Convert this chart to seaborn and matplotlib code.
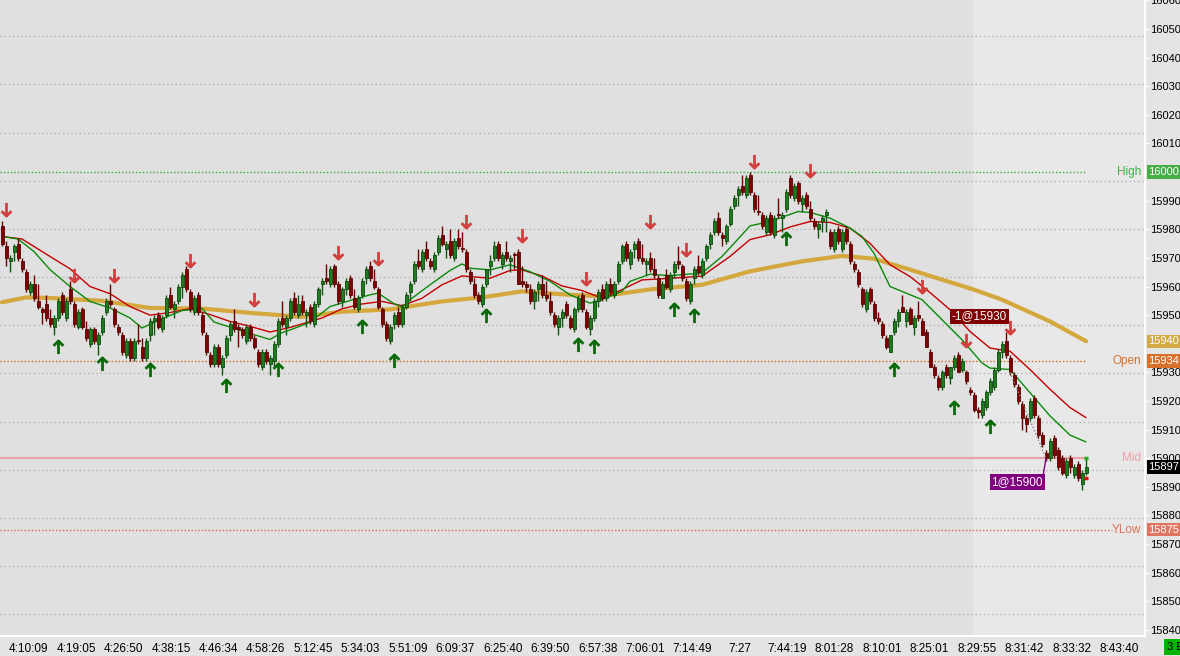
import numpy as np
import pandas as pd
import matplotlib
matplotlib.use("Agg")
import matplotlib.pyplot as plt
from matplotlib.path import Path
import seaborn as sns

# candles (one per bar, left to right)
opens = [15981, 15974, 15969, 15972, 15975, 15969, 15965, 15958, 15961, 15955,
         15952, 15954, 15949, 15946, 15949, 15957, 15949, 15959, 15954, 15946,
         15952, 15945, 15940, 15945, 15940, 15944, 15951, 15955, 15952, 15946,
         15943, 15936, 15941, 15935, 15941, 15939, 15935, 15943, 15948, 15950,
         15945, 15950, 15957, 15952, 15955, 15960, 15966, 15958, 15951, 15957,
         15950, 15943, 15936, 15933, 15939, 15932, 15936, 15943, 15948, 15946,
         15945, 15941, 15946, 15942, 15937, 15932, 15937, 15933, 15934, 15940,
         15949, 15946, 15949, 15956, 15950, 15955, 15950, 15953, 15947, 15954,
         15961, 15963, 15961, 15967, 15961, 15955, 15959, 15963, 15956, 15952,
         15957, 15963, 15967, 15962, 15959, 15952, 15947, 15941, 15947, 15951,
         15947, 15953, 15958, 15962, 15969, 15966, 15973, 15969, 15966, 15972,
         15978, 15973, 15976, 15970, 15977, 15973, 15972, 15965, 15961, 15957,
         15954, 15961, 15967, 15970, 15975, 15968, 15972, 15969, 15971, 15972,
         15962, 15961, 15959, 15955, 15959, 15961, 15957, 15955, 15950, 15946,
         15949, 15954, 15949, 15945, 15952, 15957, 15951, 15945, 15949, 15955,
         15959, 15956, 15961, 15957, 15962, 15969, 15975, 15968, 15973, 15976,
         15970, 15968, 15970, 15966, 15963, 15956, 15964, 15959, 15965, 15969,
         15967, 15962, 15955, 15963, 15967, 15964, 15970, 15975, 15979, 15984,
         15978, 15976, 15982, 15988, 15992, 15995, 15992, 15999, 15992, 15986,
         15985, 15979, 15985, 15978, 15985, 15984, 15987, 15998, 15991, 15996,
         15989, 15992, 15987, 15983, 15980, 15983, 15985, 15979, 15973, 15980,
         15973, 15980, 15975, 15968, 15965, 15959, 15952, 15959, 15954, 15949,
         15947, 15942, 15937, 15944, 15948, 15953, 15948, 15952, 15946, 15950,
         15948, 15944, 15937, 15932, 15928, 15925, 15932, 15928, 15932, 15936,
         15931, 15930, 15924, 15922, 15917, 15915, 15918, 15923, 15925, 15931,
         15937, 15941, 15935, 15929, 15925, 15919, 15914, 15914, 15921, 15914,
         15908, 15902, 15900, 15907, 15903, 15900, 15894, 15900, 15894, 15898,
         15891, 15895]
highs = [15983, 15976, 15971, 15975, 15977, 15970, 15966, 15962, 15964, 15961,
         15953, 15957, 15952, 15950, 15956, 15958, 15956, 15962, 15955, 15952,
         15953, 15948, 15946, 15946, 15944, 15950, 15956, 15961, 15953, 15947,
         15944, 15942, 15942, 15942, 15947, 15942, 15942, 15949, 15950, 15951,
         15950, 15957, 15960, 15955, 15961, 15965, 15967, 15959, 15957, 15958,
         15951, 15944, 15937, 15940, 15940, 15936, 15943, 15948, 15952, 15947,
         15946, 15947, 15947, 15943, 15938, 15938, 15938, 15936, 15941, 15949,
         15955, 15950, 15956, 15958, 15957, 15957, 15952, 15954, 15955, 15960,
         15963, 15968, 15967, 15968, 15962, 15960, 15963, 15964, 15959, 15957,
         15963, 15967, 15969, 15966, 15960, 15953, 15948, 15947, 15951, 15953,
         15954, 15958, 15962, 15969, 15973, 15973, 15976, 15970, 15972, 15978,
         15981, 15976, 15980, 15977, 15980, 15979, 15973, 15966, 15963, 15958,
         15961, 15966, 15971, 15976, 15976, 15972, 15976, 15971, 15972, 15973,
         15967, 15962, 15961, 15959, 15962, 15964, 15962, 15958, 15951, 15950,
         15952, 15955, 15950, 15953, 15957, 15958, 15952, 15950, 15956, 15959,
         15961, 15962, 15963, 15962, 15969, 15975, 15976, 15973, 15976, 15977,
         15975, 15970, 15972, 15970, 15964, 15962, 15966, 15965, 15969, 15974,
         15968, 15963, 15962, 15967, 15971, 15970, 15975, 15979, 15984, 15986,
         15979, 15982, 15988, 15992, 15995, 15999, 15999, 16000, 15993, 15992,
         15986, 15985, 15986, 15985, 15991, 15986, 15994, 15999, 15996, 15997,
         15992, 15993, 15990, 15984, 15983, 15985, 15987, 15980, 15980, 15981,
         15980, 15981, 15976, 15969, 15966, 15960, 15959, 15960, 15955, 15951,
         15948, 15943, 15943, 15949, 15952, 15957, 15952, 15953, 15950, 15955,
         15949, 15945, 15938, 15933, 15929, 15931, 15933, 15932, 15936, 15937,
         15935, 15931, 15925, 15923, 15918, 15921, 15924, 15928, 15932, 15938,
         15941, 15944, 15936, 15930, 15926, 15920, 15915, 15921, 15922, 15915,
         15909, 15903, 15907, 15908, 15904, 15901, 15900, 15901, 15898, 15899,
         15896, 15900]
lows = [15974, 15967, 15965, 15969, 15969, 15965, 15958, 15957, 15955, 15952,
        15947, 15948, 15946, 15943, 15948, 15950, 15948, 15954, 15946, 15945,
        15945, 15941, 15939, 15940, 15936, 15943, 15950, 15953, 15946, 15943,
        15936, 15935, 15934, 15934, 15940, 15934, 15934, 15941, 15943, 15945,
        15944, 15949, 15952, 15949, 15954, 15956, 15958, 15951, 15950, 15950,
        15943, 15936, 15932, 15932, 15932, 15929, 15935, 15941, 15944, 15939,
        15942, 15940, 15941, 15938, 15932, 15931, 15933, 15929, 15932, 15939,
        15946, 15943, 15948, 15950, 15949, 15950, 15946, 15947, 15946, 15953,
        15957, 15961, 15960, 15960, 15954, 15953, 15957, 15956, 15952, 15951,
        15956, 15961, 15962, 15959, 15952, 15946, 15941, 15940, 15945, 15946,
        15946, 15952, 15955, 15961, 15966, 15965, 15969, 15966, 15965, 15971,
        15974, 15970, 15970, 15969, 15973, 15972, 15965, 15961, 15956, 15954,
        15953, 15960, 15964, 15969, 15969, 15966, 15969, 15965, 15966, 15961,
        15960, 15958, 15954, 15952, 15955, 15956, 15955, 15950, 15946, 15943,
        15946, 15949, 15945, 15944, 15951, 15951, 15945, 15943, 15948, 15953,
        15955, 15955, 15957, 15956, 15961, 15968, 15969, 15966, 15970, 15969,
        15968, 15964, 15965, 15963, 15956, 15956, 15959, 15958, 15963, 15966,
        15962, 15955, 15954, 15961, 15964, 15963, 15969, 15973, 15978, 15978,
        15974, 15975, 15981, 15987, 15988, 15992, 15991, 15992, 15986, 15985,
        15980, 15978, 15978, 15977, 15984, 15979, 15986, 15991, 15990, 15989,
        15986, 15987, 15983, 15980, 15977, 15979, 15979, 15973, 15972, 15975,
        15972, 15975, 15968, 15965, 15960, 15953, 15951, 15954, 15948, 15947,
        15942, 15938, 15937, 15943, 15946, 15951, 15946, 15947, 15943, 15948,
        15943, 15939, 15932, 15928, 15924, 15924, 15928, 15926, 15931, 15930,
        15930, 15926, 15922, 15916, 15914, 15914, 15917, 15922, 15924, 15930,
        15935, 15935, 15929, 15925, 15919, 15910, 15909, 15913, 15914, 15907,
        15904, 15899, 15899, 15900, 15896, 15894, 15893, 15895, 15893, 15892,
        15889, 15894]
closes = [15975, 15970, 15970, 15974, 15970, 15966, 15959, 15961, 15956, 15953,
          15951, 15949, 15947, 15949, 15955, 15951, 15955, 15955, 15947, 15951,
          15946, 15942, 15945, 15941, 15943, 15949, 15955, 15954, 15947, 15944,
          15937, 15941, 15935, 15941, 15941, 15935, 15941, 15948, 15949, 15946,
          15949, 15956, 15953, 15954, 15960, 15964, 15959, 15952, 15956, 15951,
          15944, 15937, 15933, 15939, 15933, 15935, 15942, 15947, 15945, 15945,
          15943, 15946, 15942, 15939, 15933, 15937, 15934, 15935, 15940, 15948,
          15947, 15949, 15955, 15951, 15954, 15951, 15951, 15948, 15954, 15959,
          15962, 15962, 15966, 15961, 15955, 15959, 15962, 15957, 15953, 15956,
          15962, 15966, 15963, 15960, 15953, 15947, 15942, 15946, 15950, 15947,
          15953, 15957, 15961, 15968, 15967, 15972, 15970, 15967, 15971, 15977,
          15975, 15975, 15971, 15976, 15974, 15973, 15966, 15962, 15957, 15955,
          15960, 15966, 15969, 15974, 15970, 15971, 15970, 15970, 15971, 15961,
          15961, 15960, 15955, 15958, 15961, 15957, 15956, 15951, 15947, 15949,
          15951, 15950, 15946, 15952, 15956, 15952, 15946, 15949, 15955, 15958,
          15956, 15961, 15958, 15961, 15968, 15974, 15970, 15972, 15975, 15970,
          15969, 15969, 15966, 15964, 15957, 15961, 15960, 15964, 15968, 15968,
          15963, 15956, 15961, 15966, 15965, 15969, 15974, 15978, 15983, 15979,
          15977, 15981, 15987, 15991, 15994, 15993, 15998, 15993, 15987, 15986,
          15981, 15984, 15979, 15984, 15985, 15985, 15993, 15992, 15995, 15990,
          15991, 15988, 15984, 15981, 15982, 15984, 15986, 15974, 15979, 15976,
          15979, 15976, 15969, 15966, 15961, 15954, 15958, 15955, 15949, 15948,
          15943, 15939, 15943, 15948, 15951, 15951, 15951, 15947, 15949, 15949,
          15943, 15939, 15932, 15929, 15925, 15930, 15929, 15932, 15935, 15930,
          15934, 15927, 15923, 15917, 15916, 15920, 15923, 15927, 15931, 15937,
          15940, 15936, 15930, 15926, 15920, 15914, 15912, 15920, 15915, 15908,
          15905, 15900, 15906, 15901, 15897, 15895, 15899, 15897, 15897, 15893,
          15895, 15897]

# moving averages, sampled off the chart at these bar numbers
fast_idx = [0, 4, 8, 12, 17, 22, 27, 32, 35, 40, 45, 50, 53, 58, 62, 67, 70, 72, 77, 82,
            87, 92, 94, 98, 100, 102, 107, 112, 115, 117, 122, 127, 132, 137, 142, 147, 150, 155, 157, 162,
            167, 175, 180, 185, 187, 192, 199, 202, 207, 212, 215, 218, 222, 225, 230, 235, 240, 245, 247, 252,
            257, 262, 267, 271]
fast_val = [15977.5, 15976.6, 15972.2, 15965.9, 15960.0, 15954.8, 15952.5, 15949.0, 15945.5, 15948.7,
            15951.6, 15952.3, 15947.6, 15945.4, 15943.6, 15941.5, 15943.9, 15944.8, 15947.5, 15953.0,
            15955.1, 15957.1, 15957.7, 15954.0, 15952.8, 15955.4, 15960.6, 15965.6, 15967.9, 15966.4,
            15965.8, 15967.6, 15965.2, 15961.8, 15957.1, 15954.2, 15955.4, 15958.3, 15961.8, 15964.3,
            15963.8, 15964.7, 15970.5, 15978.1, 15981.2, 15982.7, 15986.2, 15985.9, 15983.9, 15980.4,
            15977.5, 15971.6, 15960.0, 15958.3, 15955.4, 15948.4, 15941.4, 15933.3, 15931.5, 15931.0,
            15922.9, 15914.8, 15908.1, 15905.7]
mid_idx = [0, 5, 12, 17, 22, 27, 32, 37, 42, 47, 52, 57, 62, 67, 72, 80, 85, 90, 95, 100,
           105, 110, 115, 122, 127, 130, 135, 140, 145, 150, 155, 160, 165, 175, 182, 187, 192, 197, 202, 207,
           212, 217, 222, 227, 232, 237, 242, 247, 252, 257, 262, 267, 271]
mid_val = [15977.5, 15976.6, 15970.5, 15966.2, 15960.0, 15957.5, 15953.0, 15950.0, 15950.9, 15952.3,
           15950.2, 15947.8, 15946.1, 15944.1, 15945.7, 15949.0, 15952.2, 15953.9, 15954.8, 15953.3,
           15955.9, 15960.6, 15963.7, 15962.9, 15965.6, 15965.8, 15963.7, 15960.2, 15958.6, 15955.9,
           15958.9, 15962.3, 15962.7, 15963.6, 15970.5, 15976.4, 15978.1, 15980.8, 15982.7, 15982.4,
           15980.4, 15975.1, 15967.6, 15963.5, 15957.9, 15951.9, 15944.3, 15938.5, 15937.4, 15931.0,
           15924.1, 15917.7, 15914.2]
slow_idx = [0, 6, 12, 25, 37, 50, 62, 75, 85, 97, 110, 120, 130, 142, 150, 162, 175, 187, 200, 210,
            218, 227, 235, 243, 250, 262, 271]
slow_val = [15954.5, 15956.2, 15956.0, 15955.0, 15952.5, 15952.3, 15950.8, 15949.4, 15951.2, 15952.0,
            15954.8, 15956.2, 15958.3, 15957.1, 15956.6, 15959.0, 15960.6, 15965.3, 15968.8, 15970.7,
            15969.7, 15965.9, 15962.4, 15958.9, 15955.4, 15947.8, 15940.9]

# signal arrows
sell_idx = [1, 18, 28, 47, 63, 84, 94, 116, 130, 146, 162, 171, 188, 202, 230, 241, 252]
sell_px = [15987.0, 15964.0, 15964.0, 15969.3, 15955.6, 15972.0, 15970.1, 15982.9, 15978.0, 15963.1,
           15983.0, 15973.0, 16003.8, 16000.7, 15960.2, 15941.3, 15946.0]
buy_idx = [14, 25, 37, 56, 69, 90, 98, 121, 144, 148, 168, 173, 196, 223, 238, 247]
buy_px = [15938.9, 15933.0, 15930.7, 15925.2, 15930.7, 15945.9, 15934.0, 15949.7, 15939.7, 15938.9,
          15951.8, 15949.7, 15976.6, 15930.8, 15917.6, 15910.9]

# trades
trade_idx = [252, 261]
trade_px = [15930, 15900]
trade_text = ["-1@15930", "1@15900"]

# key levels
level_names = ["High", "Open", "Mid", "YLow"]
level_values = [16000, 15934, 15900, 15875]
grid_levels = [16047.5, 16030.7, 16013.8, 15997.0, 15980.2, 15963.3, 15946.5, 15929.7,
               15912.8, 15896.0, 15879.2, 15862.3, 15845.5]
quote_px = [15900.2, 15893.2]

time_labels = ["4:10:09", "4:19:05", "4:26:50", "4:38:15", "4:46:34", "4:58:26", "5:12:45", "5:34:03",
               "5:51:09", "6:09:37", "6:25:40", "6:39:50", "6:57:38", "7:06:01", "7:14:49", "7:27",
               "7:44:19", "8:01:28", "8:10:01", "8:25:01", "8:29:55", "8:31:42", "8:33:32", "8:43:40"]

sns.set_theme(style="white")
plt.rcParams["font.family"] = ["Liberation Sans", "DejaVu Sans"]

df = pd.DataFrame({"o": opens, "h": highs, "l": lows, "c": closes})
df["i"] = np.arange(len(df))
up = df["c"] > df["o"]
body_lo = np.minimum(df["o"], df["c"])
body_h = np.maximum((df["c"] - df["o"]).abs(), 0.35)

fig = plt.figure(figsize=(11.8, 6.56), dpi=100, facecolor="#e4e4e4")
ax = fig.add_axes([0, 20 / 656, 1145 / 1180, 636 / 656])
ax.set_facecolor("#e0e0e0")
x0, x1 = -0.5, 285.75
ax.set_xlim(x0, x1)
ax.set_ylim(15837.9, 16060.1)

# lighter area after the session change
ax.axvspan(242.75, x1, color="#e8e8e8", lw=0, zorder=0)
ax.hlines(grid_levels, x0, x1, colors="#b4b4b4", linestyles=(0, (1, 2)), lw=1, zorder=1)

# key level lines + names
lvl_colors = ["#2fb02f", "#d2691e", "#eba3aa", "#d8684c"]
lvl_text_colors = ["#3db43d", "#d8702a", "#eba0a8", "#e07258"]
lvl_ends = [270.75, 270.75, 271.5, 277.5]
for name, v, col, tcol, xe in zip(level_names, level_values, lvl_colors, lvl_text_colors, lvl_ends):
    if name == "Mid":
        ax.hlines(v, x0, xe, colors=col, lw=1.6, zorder=1.5)
    else:
        ax.hlines(v, x0, xe, colors=col, lw=1, linestyles=(0, (1, 1.5)), zorder=1.5)
    ax.text(1141 / 1145, v, name, transform=ax.get_yaxis_transform(), ha="right", va="center",
            color=tcol, fontsize=8.5, zorder=6)

# moving averages
sns.lineplot(x=slow_idx, y=slow_val, ax=ax, color="#d4a83c", linewidth=3, zorder=2.4)
sns.lineplot(x=mid_idx, y=mid_val, ax=ax, color="#c40000", linewidth=1, zorder=2.6)
sns.lineplot(x=fast_idx, y=fast_val, ax=ax, color="#0a8a0a", linewidth=1, zorder=2.7)

# candles
ax.vlines(df["i"][up], df["l"][up], df["h"][up], colors="#0b5a0b", lw=1, zorder=3)
ax.vlines(df["i"][~up], df["l"][~up], df["h"][~up], colors="#6e0000", lw=1, zorder=3)
ax.bar(df["i"][up], body_h[up], bottom=body_lo[up], width=0.75, color="#1b7d1b",
       edgecolor="#0b4b0b", linewidth=0.6, zorder=4)
ax.bar(df["i"][~up], body_h[~up], bottom=body_lo[~up], width=0.75, color="#800000",
       edgecolor="#5c0000", linewidth=0.6, zorder=4)

# signal arrows
down_arrow = Path([(0, 1), (0, -1), (-0.75, -0.25), (0, -1), (0.75, -0.25)],
                  [Path.MOVETO, Path.LINETO, Path.MOVETO, Path.LINETO, Path.LINETO])
up_arrow = Path([(0, -1), (0, 1), (-0.75, 0.25), (0, 1), (0.75, 0.25)],
                [Path.MOVETO, Path.LINETO, Path.MOVETO, Path.LINETO, Path.LINETO])
ax.plot(sell_idx, sell_px, ls="none", marker=down_arrow, ms=9.5, mew=2, mec="#d23f3f",
        mfc="none", zorder=5)
ax.plot(buy_idx, buy_px, ls="none", marker=up_arrow, ms=9.5, mew=2, mec="#0a6a0a",
        mfc="none", zorder=5)

# trades
ax.plot(trade_idx, trade_px, ls=(0, (1, 1.5)), color="#8a8a8a", lw=1, zorder=5)
ax.annotate(trade_text[0], xy=(trade_idx[0], trade_px[0]), xytext=(-3, 56), textcoords="offset pixels",
            ha="right", va="center", color="white", fontsize=8.5, zorder=7,
            bbox=dict(boxstyle="square,pad=0.15", fc="#800000", ec="none"))
ax.annotate(trade_text[1], xy=(trade_idx[1], trade_px[1]), xytext=(-3, -24), textcoords="offset pixels",
            ha="right", va="center", color="white", fontsize=8.5, zorder=7,
            bbox=dict(boxstyle="square,pad=0.15", fc="#800080", ec="none"),
            arrowprops=dict(arrowstyle="-", color="#800080", lw=1, relpos=(1, 1), shrinkA=0, shrinkB=0))

# bid / ask ticks on the last bar
last = df["i"].iloc[-1]
ax.hlines(quote_px[0], last - 0.6, last + 0.6, colors="#1fb41f", lw=2.5, zorder=6)
ax.hlines(quote_px[1], last - 0.6, last + 0.6, colors="#e01010", lw=2.5, zorder=6)

# price flags on the axis
flag_values = [level_values[0], slow_val[-1], level_values[1], closes[-1], level_values[3]]
flag_colors = ["#47ad47", "#d4aa45", "#d9702a", "#000000", "#df7560"]
flag_text = [f"{int(v)}" for v in flag_values]

# axes
ax.grid(False)
ax.yaxis.tick_right()
yt = np.arange(15840, 16061, 10)
ax.set_yticks(yt)
ax.set_yticklabels(["" if str(v) in flag_text else str(v) for v in yt])
ax.set_xticks(np.arange(len(time_labels)) * 11.85 + 6.7)
ax.set_xticklabels(time_labels)
ax.tick_params(axis="y", length=3, width=1, color="white", pad=1, labelsize=8, labelcolor="black")
ax.tick_params(axis="x", length=3, width=1, color="white", pad=2, labelsize=8.5, labelcolor="black")
for side in ["top", "left"]:
    ax.spines[side].set_visible(False)
for side in ["right", "bottom"]:
    ax.spines[side].set_color("white")
    ax.spines[side].set_linewidth(1.5)

for v, t, col in zip(flag_values, flag_text, flag_colors):
    ax.text(1 + 3.5 / 1145, v, t, transform=ax.get_yaxis_transform(), ha="left", va="center",
            color="white", fontsize=8, clip_on=False, zorder=8,
            bbox=dict(boxstyle="square,pad=0.15", fc=col, ec="none"))

fig.text(1167 / 1180, 1 - 647 / 656, "3 E", ha="left", va="center", fontsize=8, color="black",
         bbox=dict(boxstyle="square,pad=0.3", fc="#00b400", ec="none"))

fig.savefig("out.png", dpi=100, facecolor=fig.get_facecolor())
